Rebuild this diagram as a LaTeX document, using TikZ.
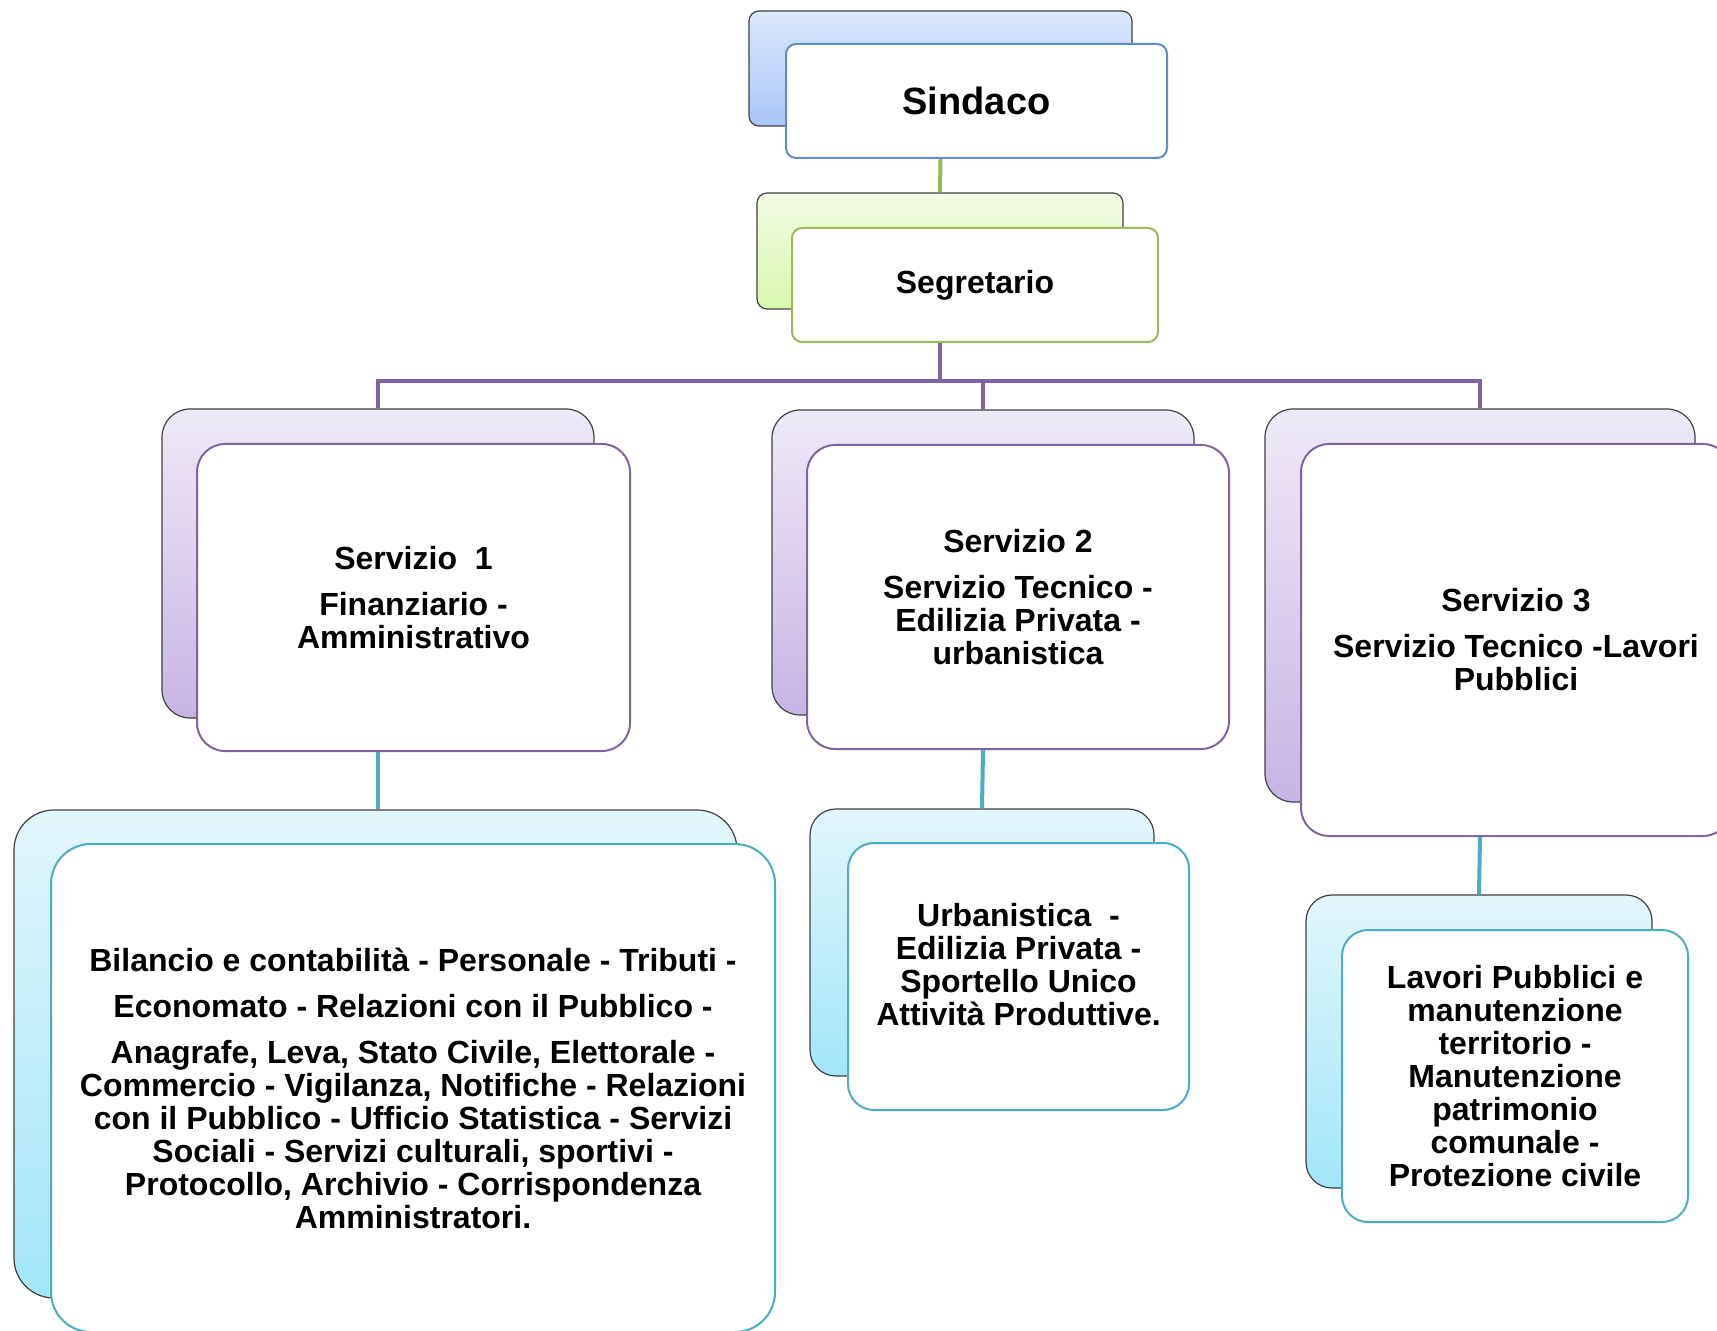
\documentclass[tikz,border=0pt]{standalone}
\usepackage{fontspec}
\setmainfont{Liberation Sans}
\definecolor{bluetop}{HTML}{DCE8FB}
\definecolor{bluebot}{HTML}{A9C5F7}
\definecolor{blueline}{HTML}{5B8CCC}
\definecolor{greentop}{HTML}{F3FBE5}
\definecolor{greenbot}{HTML}{D9F8AD}
\definecolor{greenline}{HTML}{9BBB59}
\definecolor{purpletop}{HTML}{EEEAF7}
\definecolor{purplebot}{HTML}{C7B4E4}
\definecolor{purpleline}{HTML}{8064A2}
\definecolor{cyantop}{HTML}{E2F6FB}
\definecolor{cyanbot}{HTML}{A2E6F9}
\definecolor{cyanline}{HTML}{4BACC6}
\begin{document}
\begin{tikzpicture}[x=0.5pt, y=-0.5pt,
	backbox/.style={draw=black!75, line width=0.6pt, inner sep=0pt},
	frontbox/.style={fill=white, line width=1pt, inner sep=0pt, align=center,
		font=\bfseries\fontsize{16}{16.5}\selectfont},
	link/.style={line width=2pt}]
	\fill[white] (0,0) rectangle (1717,1331);
	\useasboundingbox (0,0) rectangle (1717,1331);
	% Top of the chart
	\node[backbox, top color=bluetop, bottom color=bluebot, rounded corners=5pt,
		minimum width=191.5pt, minimum height=57.5pt] (sindacoback) at (940.5, 68.5) {};
	\node[frontbox, draw=blueline, rounded corners=5pt, minimum width=190.5pt,
		minimum height=57pt, font=\bfseries\fontsize{19}{21}\selectfont] (sindaco) at (976.5, 101) {Sindaco};
	\node[backbox, top color=greentop, bottom color=greenbot, rounded corners=5pt,
		minimum width=183pt, minimum height=58pt] (segretarioback) at (940, 251) {};
	\node[frontbox, draw=greenline, rounded corners=5pt, minimum width=183pt,
		minimum height=57pt] (segretario) at (975, 285) {Segretario};
	% The three services
	\node[backbox, top color=purpletop, bottom color=purplebot, rounded corners=14pt,
		minimum width=216pt, minimum height=154.5pt] (serv1back) at (378, 563.5) {};
	\node[frontbox, draw=purpleline, rounded corners=14pt, minimum width=216.5pt,
		minimum height=153.5pt] (serv1) at (413.5, 597.5) {Servizio\ \ 1\\[6.5pt] Finanziario -\\ Amministrativo};
	\node[backbox, top color=purpletop, bottom color=purplebot, rounded corners=14pt,
		minimum width=211pt, minimum height=152.5pt] (serv2back) at (983, 562.5) {};
	\node[frontbox, draw=purpleline, rounded corners=14pt, minimum width=211pt,
		minimum height=152pt] (serv2) at (1018, 597) {Servizio 2\\[6.5pt] Servizio Tecnico -\\ Edilizia Privata -\\ urbanistica};
	\node[backbox, top color=purpletop, bottom color=purplebot, rounded corners=14pt,
		minimum width=215pt, minimum height=196.5pt] (serv3back) at (1480, 605.5) {};
	\node[frontbox, draw=purpleline, rounded corners=14pt, minimum width=215pt,
		minimum height=196pt] (serv3) at (1516, 640) {Servizio 3\\[6.5pt] Servizio Tecnico -Lavori\\ Pubblici};
	% Offices under each service
	\node[backbox, top color=cyantop, bottom color=cyanbot, rounded corners=20pt,
		minimum width=361.5pt, minimum height=244pt] (uffici1back) at (375.5, 1054) {};
	\node[frontbox, draw=cyanline, rounded corners=20pt, minimum width=362pt,
		minimum height=244pt] (uffici1) at (413, 1088) {Bilancio e contabilità - Personale - Tributi -\\[6.5pt]
		Economato - Relazioni con il Pubblico -\\[6.5pt]
		Anagrafe, Leva, Stato Civile, Elettorale -\\
		Commercio - Vigilanza, Notifiche - Relazioni\\
		con il Pubblico - Ufficio Statistica - Servizi\\
		Sociali - Servizi culturali, sportivi -\\
		Protocollo, Archivio - Corrispondenza\\
		Amministratori.};
	\node[backbox, top color=cyantop, bottom color=cyanbot, rounded corners=13pt,
		minimum width=172pt, minimum height=133.5pt] (uffici2back) at (982, 942.5) {};
	\node[frontbox, draw=cyanline, rounded corners=13pt, minimum width=170.5pt,
		minimum height=133.5pt, text depth=12pt] (uffici2) at (1018.5, 976.5) {Urbanistica\ \ -\\ Edilizia Privata -\\ Sportello Unico\\ Attività Produttive.};
	\node[backbox, top color=cyantop, bottom color=cyanbot, rounded corners=13pt,
		minimum width=173pt, minimum height=146.5pt] (uffici3back) at (1479, 1041.5) {};
	\node[frontbox, draw=cyanline, rounded corners=13pt, minimum width=173pt,
		minimum height=146pt] (uffici3) at (1515, 1076) {Lavori Pubblici e\\ manutenzione\\ territorio -\\ Manutenzione\\ patrimonio\\ comunale -\\ Protezione civile};
	% Connectors
	\coordinate (bus) at (940, 381);
	\draw[link, greenline] (sindacoback.center |- sindaco.south) -- (segretarioback.north);
	\draw[link, purpleline] (segretarioback.center |- segretario.south) -- (bus);
	\draw[link, purpleline] (serv1back.north) |- (bus) -| (serv3back.north);
	\draw[link, purpleline] (bus) -| (serv2back.north);
	\draw[link, cyanline] (serv1back.center |- serv1.south) -- (uffici1back.north -| serv1back.center);
	\draw[link, cyanline] (serv2back.center |- serv2.south) -- (uffici2back.north);
	\draw[link, cyanline] (serv3back.center |- serv3.south) -- (uffici3back.north);
\end{tikzpicture}
\end{document}
